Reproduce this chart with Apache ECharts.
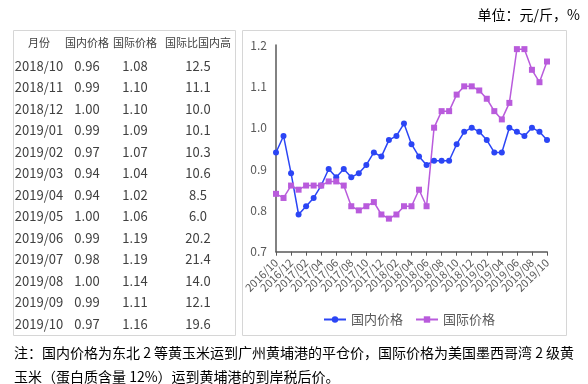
<!DOCTYPE html>
<html>
<head>
<meta charset="utf-8">
<script src="https://cdn.jsdelivr.net/npm/echarts@6/dist/echarts.min.js"></script>
<style>
html,body{margin:0;padding:0;background:#fff;}
#c{width:588px;height:384px;}
</style>
</head>
<body>
<div id="c"></div>
<script>
// Table data
const tableHeader = ['月份', '国内价格', '国际价格', '国际比国内高'];
const tableMonths = ['2018/10','2018/11','2018/12','2019/01','2019/02','2019/03','2019/04','2019/05','2019/06','2019/07','2019/08','2019/09','2019/10'];
const tableDomestic = ['0.96','0.99','1.00','0.99','0.97','0.94','0.94','1.00','0.99','0.98','1.00','0.99','0.97'];
const tableIntl = ['1.08','1.10','1.10','1.09','1.07','1.04','1.02','1.06','1.19','1.19','1.14','1.11','1.16'];
const tableDiff = ['12.5','11.1','10.0','10.1','10.3','10.6','8.5','6.0','20.2','21.4','14.0','12.1','19.6'];

// Chart data
const categories = [
  '2016/10','2016/11','2016/12','2017/01','2017/02','2017/03','2017/04','2017/05','2017/06','2017/07','2017/08','2017/09',
  '2017/10','2017/11','2017/12','2018/01','2018/02','2018/03','2018/04','2018/05','2018/06','2018/07','2018/08','2018/09',
  '2018/10','2018/11','2018/12','2019/01','2019/02','2019/03','2019/04','2019/05','2019/06','2019/07','2019/08','2019/09','2019/10'
];
const domestic = [0.94,0.98,0.89,0.79,0.81,0.83,0.86,0.90,0.88,0.90,0.88,0.89,0.91,0.94,0.93,0.97,0.98,1.01,0.96,0.93,0.91,0.92,0.92,0.92,
  0.96,0.99,1.00,0.99,0.97,0.94,0.94,1.00,0.99,0.98,1.00,0.99,0.97];
const international = [0.84,0.83,0.86,0.85,0.86,0.86,0.86,0.87,0.87,0.86,0.81,0.80,0.81,0.82,0.79,0.78,0.79,0.81,0.81,0.85,0.81,1.00,1.04,1.04,
  1.08,1.10,1.10,1.09,1.07,1.04,1.02,1.06,1.19,1.19,1.14,1.11,1.16];
const yTicks = [0.7, 0.8, 0.9, 1.0, 1.1, 1.2];
const seriesNames = ['国内价格', '国际价格'];
const unitText = '单位：元/斤，%';
const noteLines = ['注：国内价格为东北 2 等黄玉米运到广州黄埔港的平仓价，国际价格为美国墨西哥湾 2 级黄', '玉米（蛋白质含量 12%）运到黄埔港的到岸税后价。'];

const FONT = '"Noto Sans CJK SC", "Noto Sans", sans-serif';
const colX = [39, 87, 135, 198];
const headerY = 43;
const rowY0 = 66;
const rowStep = 21.5;

const graphics = [];
graphics.push({type:'rect', shape:{x:13.5,y:30.5,width:222,height:305}, style:{fill:'none', stroke:'#d6d6d6', lineWidth:1}, silent:true});
graphics.push({type:'rect', shape:{x:242.5,y:30.5,width:324,height:305}, style:{fill:'none', stroke:'#d6d6d6', lineWidth:1}, silent:true});
tableHeader.forEach((h,i)=>{
  graphics.push({type:'text', x:colX[i], y:headerY, style:{text:h, fill:'#404040', font:'11px '+FONT, textAlign:'center', textVerticalAlign:'middle'}});
});
const cols = [tableMonths, tableDomestic, tableIntl, tableDiff];
tableMonths.forEach((m,r)=>{
  cols.forEach((col,i)=>{
    graphics.push({type:'text', x:colX[i], y:rowY0 + r*rowStep, style:{text:col[r], fill:'#404040', font:'13px '+FONT, textAlign:'center', textVerticalAlign:'middle'}});
  });
});
graphics.push({type:'text', x:580, y:15, style:{text:unitText, fill:'#000', font:'14px '+FONT, textAlign:'right', textVerticalAlign:'middle'}});
noteLines.forEach((t,i)=>{
  graphics.push({type:'text', x:14, y:353 + i*24, style:{text:t, fill:'#000', font:'14px '+FONT, textAlign:'left', textVerticalAlign:'middle'}});
});

const everyOther = (idx) => idx % 2 === 0;

const chart = echarts.init(document.getElementById('c'), null, {renderer:'canvas'});
chart.setOption({
  animation:false,
  backgroundColor:'#fff',
  grid:{left:276, right:41, top:45, bottom:132.3, containLabel:false},
  legend:{
    left:318, top:308, itemWidth:22, itemHeight:8, itemGap:12,
    textStyle:{fontSize:13, color:'#595959', fontFamily:FONT},
    data:seriesNames
  },
  xAxis:{
    type:'category', data:categories, boundaryGap:false,
    axisLine:{lineStyle:{color:'#595959', width:1.5}},
    axisTick:{interval:everyOther, length:4, lineStyle:{color:'#595959'}},
    axisLabel:{interval:0, rotate:45, fontSize:11, color:'#595959', fontFamily:FONT, margin:9, hideOverlap:false,
               formatter:(v, idx) => (idx % 2 === 0 ? v : '')},
    splitLine:{show:false}
  },
  yAxis:{
    type:'value', min:yTicks[0], max:yTicks[yTicks.length-1], interval:0.1,
    axisLine:{show:true, lineStyle:{color:'#595959', width:1.5}},
    axisTick:{show:false},
    splitLine:{show:false},
    axisLabel:{fontSize:12, color:'#595959', fontFamily:FONT, margin:9, formatter:v=>v.toFixed(1)}
  },
  series:[
    {name:seriesNames[0], type:'line', data:domestic, symbol:'circle', symbolSize:6, showSymbol:true, showAllSymbol:true,
     itemStyle:{color:'#2b45f5'}, lineStyle:{color:'#2b45f5', width:1.5}},
    {name:seriesNames[1], type:'line', data:international, symbol:'rect', symbolSize:6, showSymbol:true, showAllSymbol:true,
     itemStyle:{color:'#b95bdc'}, lineStyle:{color:'#b95bdc', width:1.5}}
  ],
  graphic:graphics
});
</script>
</body>
</html>
